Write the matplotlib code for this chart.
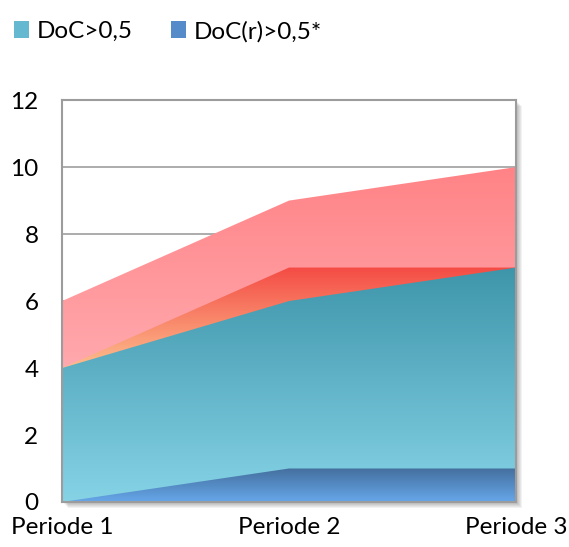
import numpy as np
import matplotlib
matplotlib.use('Agg')
import matplotlib.pyplot as plt
from matplotlib.colors import LinearSegmentedColormap
from matplotlib.patches import Patch, Rectangle

plt.rcParams['font.family'] = ['Lato', 'DejaVu Sans']

periods = ['Periode 1', 'Periode 2', 'Periode 3']
pink_vals = [6, 9, 10]
red_vals = [4, 7, 7]
doc_vals = [4, 6, 7]
docr_vals = [0, 1, 1]
legend_labels = ['DoC>0,5', 'DoC(r)>0,5*']
yticks = [0, 2, 4, 6, 8, 10, 12]

# (bottom colour, top colour) for each area
pink_cols = ('#ffa9ae', '#ff8386')
red_cols = ('#fdbf8e', '#f44b44')
doc_cols = ('#86d3e6', '#3e95aa')
docr_cols = ('#66a7ea', '#446f9e')


def gradient_area(ax, x, y, cols, z, glow=0):
    y = np.asarray(y, dtype=float)
    poly = ax.fill_between(x, 0, y, facecolor='none', edgecolor='none', zorder=z)
    cmap = LinearSegmentedColormap.from_list('g', list(cols))
    grad = np.linspace(0, 1, 256).reshape(-1, 1)
    im = ax.imshow(grad, cmap=cmap, origin='lower', aspect='auto',
                   extent=[x[0], x[-1], glow, y.max()], zorder=z, interpolation='bilinear')
    im.set_clip_path(poly.get_paths()[0], transform=ax.transData)
    # fill anything under the gradient's lower edge with the bottom colour
    if glow > 0:
        ax.fill_between(x, 0, np.minimum(y, glow), facecolor=cols[0], edgecolor='none', zorder=z)
    return im


fig = plt.figure(figsize=(5.69, 5.47), dpi=100)
ax = fig.add_axes([0.109, 0.0823, 0.798, 0.7347])

# soft drop shadow on the right and bottom of the plot frame
for i in range(6):
    off = (i + 1) / 569
    offy = (i + 1) / 547
    fig.patches.append(Rectangle((0.109 + off, 0.0823 - offy), 0.798, 0.7347,
                                 transform=fig.transFigure, facecolor='#000000',
                                 alpha=0.05, edgecolor='none', zorder=-10))
ax.set_facecolor('white')
ax.patch.set_zorder(-5)

x = np.arange(len(periods))
gradient_area(ax, x, pink_vals, pink_cols, 1, glow=4)
gradient_area(ax, x, red_vals, red_cols, 2, glow=4)
gradient_area(ax, x, doc_vals, doc_cols, 3)
gradient_area(ax, x, docr_vals, docr_cols, 4)

ax.set_xlim(0, 2)
ax.set_ylim(0, 12)
ax.set_yticks(yticks)
ax.set_xticks(x)
ax.set_xticklabels(periods)
ax.yaxis.grid(True, color='#a6a6a6', linewidth=1.3, zorder=0)
ax.set_axisbelow(True)
ax.tick_params(axis='both', length=0, labelsize=17.5, colors='black')
ax.tick_params(axis='y', pad=17)
ax.tick_params(axis='x', pad=11)
for s in ax.spines.values():
    s.set_color('#9c9c9c')
    s.set_linewidth(1.5)
    s.set_zorder(10)

handles = [Patch(facecolor='#64b8cf', edgecolor='none'),
           Patch(facecolor='#558bc8', edgecolor='none')]
fig.legend(handles, legend_labels, loc='upper left', bbox_to_anchor=(0.0246, 0.962),
           ncol=2, frameon=False, fontsize=17.5, handlelength=0.62, handleheight=0.7,
           handletextpad=0.3, columnspacing=1.6, borderpad=0, borderaxespad=0)

fig.savefig('out.png', dpi=100)
